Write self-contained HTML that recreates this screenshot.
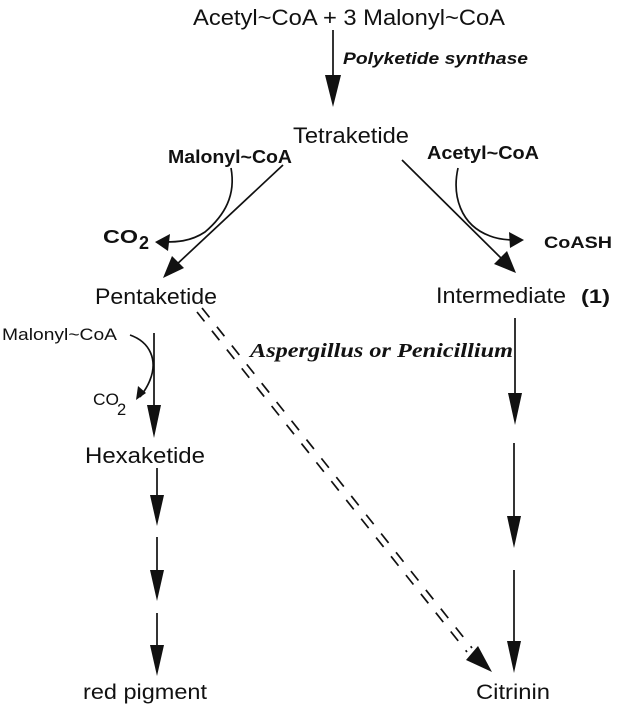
<!DOCTYPE html>
<html><head><style>
html,body{margin:0;padding:0;background:#fff;}
svg{display:block;}
text{font-family:"Liberation Sans",sans-serif;fill:#111;}
</style></head><body>
<svg width="633" height="722" viewBox="0 0 633 722" xmlns="http://www.w3.org/2000/svg">
<g stroke="#111" fill="none" stroke-width="1.7">
<line x1="333" y1="30" x2="333" y2="85"/>
<line x1="283" y1="165" x2="175" y2="266"/>
<path d="M231 168 C236 195 225 215 205 232 C190 242 175 242 165 242"/>
<line x1="402" y1="160" x2="505" y2="262"/>
<path d="M458 168 C452 195 460 225 490 236 C500 240 510 240 515 240"/>
<line x1="154" y1="333" x2="154" y2="415"/>
<path d="M130 335 C150 342 158 360 150 380 C147 388 143 393 140 397"/>
<line x1="157" y1="468" x2="157" y2="500"/>
<line x1="157" y1="537" x2="157" y2="575"/>
<line x1="157" y1="613" x2="157" y2="650"/>
<line x1="515" y1="318" x2="515" y2="400"/>
<line x1="514" y1="443" x2="514" y2="525"/>
<line x1="514" y1="570" x2="514" y2="650"/>
<line x1="197" y1="312" x2="467" y2="652" stroke-dasharray="12 12"/>
<line x1="202" y1="308" x2="472" y2="648" stroke-dasharray="12 12"/>
</g>
<g fill="#111">
<polygon points="325,75 341,75 333,107"/>
<polygon points="163,278 172,256 184,268"/>
<polygon points="155,242 170,234 168,251"/>
<polygon points="516,273 494,264 507,251"/>
<polygon points="524,240 509,232 510,248"/>
<polygon points="147,405 161,405 154,438"/>
<polygon points="136,400 138,386 146,393"/>
<polygon points="150,495 164,495 157,526"/>
<polygon points="150,570 164,570 157,601"/>
<polygon points="150,645 164,645 157,676"/>
<polygon points="508,393 522,393 515,425"/>
<polygon points="507,516 521,516 514,548"/>
<polygon points="507,641 521,641 514,673"/>
<polygon points="492,672 466,660 478,646"/>
</g>
<text x="193" y="25" font-size="22" textLength="312" lengthAdjust="spacingAndGlyphs">Acetyl~CoA + 3 Malonyl~CoA</text>
<text x="343" y="64" font-size="17" font-weight="bold" font-style="italic" textLength="185" lengthAdjust="spacingAndGlyphs">Polyketide synthase</text>
<text x="293" y="143" font-size="22" textLength="116" lengthAdjust="spacingAndGlyphs">Tetraketide</text>
<text x="168" y="163" font-size="18" font-weight="bold" textLength="124" lengthAdjust="spacingAndGlyphs">Malonyl~CoA</text>
<text x="427" y="159" font-size="18" font-weight="bold" textLength="112" lengthAdjust="spacingAndGlyphs">Acetyl~CoA</text>
<text x="103" y="243" font-size="18" font-weight="bold" textLength="35" lengthAdjust="spacingAndGlyphs">CO</text>
<text x="139" y="249" font-size="18" font-weight="bold">2</text>
<text x="544" y="248" font-size="17" font-weight="bold" textLength="68" lengthAdjust="spacingAndGlyphs">CoASH</text>
<text x="95" y="304" font-size="22" textLength="122" lengthAdjust="spacingAndGlyphs">Pentaketide</text>
<text x="436" y="303" font-size="22" textLength="130" lengthAdjust="spacingAndGlyphs">Intermediate</text>
<text x="581" y="303" font-size="19" font-weight="bold" textLength="29" lengthAdjust="spacingAndGlyphs">(1)</text>
<text x="2" y="340" font-size="16.5" textLength="115" lengthAdjust="spacingAndGlyphs">Malonyl~CoA</text>
<text x="250" y="357" font-size="20" font-weight="bold" font-style="italic" style="font-family:'Liberation Serif',serif" textLength="263" lengthAdjust="spacingAndGlyphs">Aspergillus or Penicillium</text>
<text x="93" y="405" font-size="16.5" textLength="26" lengthAdjust="spacingAndGlyphs">CO</text>
<text x="117" y="415" font-size="16.5">2</text>
<text x="85" y="463" font-size="22" textLength="120" lengthAdjust="spacingAndGlyphs">Hexaketide</text>
<text x="83" y="699" font-size="21" textLength="124" lengthAdjust="spacingAndGlyphs">red pigment</text>
<text x="476" y="699" font-size="21" textLength="74" lengthAdjust="spacingAndGlyphs">Citrinin</text>
</svg>
</body></html>
